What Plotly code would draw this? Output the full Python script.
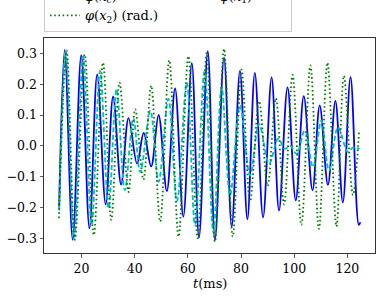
import plotly.graph_objects as go

# Extrema (time in ms, value in rad)
t_c = [11.6, 13.7, 16.7, 19.9, 23.0, 25.9, 29.1, 31.9, 34.9, 37.7, 40.9, 43.4, 46.2, 49.0,
       52.1, 55.2, 58.3, 61.5, 64.2, 67.5, 70.2, 73.6, 76.5, 79.6, 82.4, 85.2, 88.3, 91.5,
       94.3, 97.5, 100.6, 103.6, 106.9, 109.6, 112.7, 115.5, 118.3, 121.2, 124.3, 124.9]
phi_c = [-0.20, 0.311, -0.305, 0.294, -0.268, 0.232, -0.19, 0.16, -0.126, 0.09, -0.058, 0.042,
         -0.067, 0.10, -0.147, 0.186, -0.23, 0.268, -0.298, 0.307, -0.305, 0.286, -0.262, 0.243,
         -0.238, 0.237, -0.232, 0.222, -0.21, 0.19, -0.177, 0.161, -0.145, 0.131, -0.127, 0.146,
         -0.184, 0.223, -0.257, -0.248]

t_1 = [11.6, 14.1, 17.2, 20.6, 23.8, 27.0, 30.2, 33.2, 36.3, 39.5, 42.1, 45.9, 49.0, 52.7,
       55.9, 59.6, 62.7, 66.3, 69.6, 72.7, 75.9, 79.6, 83.4, 86.8, 90.6, 94.0, 96.5, 98.5,
       100.9, 104.0, 107.1, 110.2, 113.1, 116.5, 120.2, 122.2, 124.6]
phi_1 = [-0.21, 0.305, -0.300, 0.290, -0.257, 0.243, -0.203, 0.184, -0.144, 0.09, -0.085, 0.114,
         -0.117, 0.152, -0.18, 0.205, -0.257, 0.243, -0.28, 0.19, -0.16, 0.13, -0.096, 0.071,
         -0.058, 0.023, -0.01, 0.0, -0.026, 0.05, -0.069, 0.082, -0.08, 0.06, -0.02, -0.005, -0.01]

t_2 = [11.5, 14.4, 17.5, 21.2, 24.6, 28.1, 31.2, 34.3, 37.7, 40.2, 43.3, 46.2, 49.6, 53.0,
       56.5, 60.2, 63.7, 67.1, 70.2, 73.6, 76.9, 80.2, 83.4, 86.8, 90.0, 93.1, 96.2, 99.4,
       102.7, 106.1, 109.3, 112.5, 115.9, 118.7, 122.1, 124.4]
phi_2 = [-0.235, 0.31, -0.305, 0.297, -0.29, 0.27, -0.24, 0.205, -0.15, 0.119, -0.11, 0.195,
         -0.246, 0.278, -0.295, 0.291, -0.30, 0.302, -0.312, 0.315, -0.295, 0.247, -0.18, 0.145,
         -0.13, 0.154, -0.19, 0.23, -0.257, 0.261, -0.27, 0.27, -0.262, 0.227, -0.16, 0.046]

x_ticks = [20, 40, 60, 80, 100, 120]
y_ticks = [-0.3, -0.2, -0.1, 0.0, 0.1, 0.2, 0.3]
y_tick_text = ["\u22120.3", "\u22120.2", "\u22120.1", "0.0", "0.1", "0.2", "0.3"]

FONT = "DejaVu Serif"
NB = "\u00a0"

fig = go.Figure()
fig.add_trace(go.Scatter(x=t_c, y=phi_c, mode="lines", name="<i>φ</i>(<i>x<sub>c</sub></i>)" + NB * 3,
                         line=dict(color="#0000ff", width=1.8, shape="spline", smoothing=1.0)))
fig.add_trace(go.Scatter(x=t_1, y=phi_1, mode="lines", name="<i>φ</i>(<i>x</i><sub>1</sub>)" + NB * 8,
                         line=dict(color="#00bfbf", width=1.8, dash="5px,2.5px", shape="spline", smoothing=1.0)))
fig.add_trace(go.Scatter(x=t_2, y=phi_2, mode="lines", name="<i>φ</i>(<i>x</i><sub>2</sub>) (rad.)" + NB * 4,
                         line=dict(color="#008000", width=1.8, dash="1.6px,2.6px", shape="spline", smoothing=1.0)))

axis_common = dict(showline=True, linecolor="#333333", linewidth=1, mirror=True,
                   ticks="outside", ticklen=3.5, tickwidth=0.8, tickcolor="#333333",
                   showgrid=False, zeroline=False, automargin=False,
                   tickfont=dict(family=FONT, size=12.5, color="black"))

fig.update_xaxes(range=[5.9, 130.4], tickvals=x_ticks, **axis_common)
fig.update_yaxes(range=[-0.348, 0.35], tickvals=y_ticks, ticktext=y_tick_text, **axis_common)

fig.add_annotation(text="<i>t</i>(ms)", xref="paper", yref="paper", x=0.5, y=-0.14,
                   xanchor="center", yanchor="middle", showarrow=False,
                   font=dict(family=FONT, size=13, color="black"))

fig.update_layout(
    width=382, height=299,
    margin=dict(l=44, r=7, t=38, b=46, autoexpand=False),
    paper_bgcolor="white", plot_bgcolor="white",
    showlegend=True,
    hovermode=False,
    legend=dict(orientation="h", x=0, xanchor="left", y=1.03, yanchor="bottom",
                bordercolor="#cccccc", borderwidth=1, bgcolor="white",
                font=dict(family=FONT, size=13, color="black"),
                itemwidth=30, tracegroupgap=0),
)

fig.write_html("out.html",
               config={"displayModeBar": False, "staticPlot": True},
               post_script="document.documentElement.style.margin='0';"
                           "document.body.style.margin='0';"
                           "document.body.style.overflow='hidden';")
